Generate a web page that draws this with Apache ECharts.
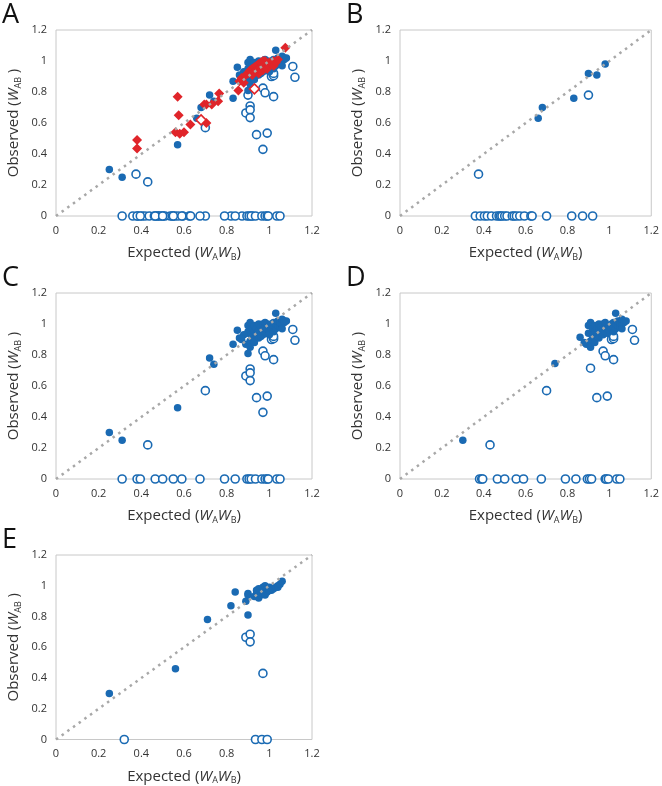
<!DOCTYPE html>
<html lang="en">

<head>
  <meta charset="UTF-8">
  <script src="https://cdn.jsdelivr.net/npm/echarts@6/dist/echarts.min.js"></script>
  <title>Observed vs expected</title>
  <style>
    body { margin: 0; background: #fff; }
    #main { width: 662px; height: 786px; }
  </style>
</head>

<body>
  <div id="main"></div>

  <script>
    // panel B
    let bFilled = [[0.66, 0.63], [0.68, 0.70], [0.83, 0.76], [0.90, 0.92], [0.94, 0.91], [0.98, 0.98]]
    let bOpen = [[0.375, 0.27], [0.90, 0.78]]
    let bZero = [0.36, 0.383, 0.403, 0.417, 0.437, 0.461, 0.473, 0.48, 0.487, 0.50, 0.511, 0.536, 0.545,
      0.556, 0.572, 0.594, 0.625, 0.631, 0.70, 0.82, 0.872, 0.92]

    // panel C
    let cFilled = [[0.25, 0.30], [0.31, 0.25], [0.57, 0.46], [0.72, 0.78], [0.74, 0.74], [0.83, 0.87],
      [0.85, 0.96], [0.86, 0.91], [0.90, 0.81], [0.89, 0.87], [0.90, 0.99], [0.91, 1.01], [0.90, 0.94],
      [0.90, 0.95], [0.91, 0.89], [0.91, 0.85], [0.92, 0.92], [0.92, 0.97], [0.93, 0.95], [0.93, 0.99],
      [0.93, 0.88], [0.94, 0.93], [0.94, 0.97], [0.95, 0.91], [0.95, 0.96], [0.95, 1.00], [0.96, 0.94],
      [0.96, 0.98], [0.96, 0.92], [0.97, 0.96], [0.97, 1.00], [0.97, 0.93], [0.98, 0.95], [0.98, 0.98],
      [0.98, 1.01], [0.99, 0.94], [0.99, 0.97], [0.99, 1.00], [1.00, 0.96], [1.00, 0.99], [1.00, 0.93],
      [1.01, 0.97], [1.01, 1.00], [1.02, 0.95], [1.02, 0.98], [1.02, 1.01], [1.03, 1.07], [1.03, 0.97],
      [1.03, 1.00], [1.04, 0.99], [1.04, 1.02], [1.05, 0.98], [1.05, 1.01], [1.06, 1.00], [1.06, 1.03],
      [1.06, 0.97], [1.07, 1.01], [1.07, 1.02], [1.08, 1.02], [0.88, 0.93], [0.87, 0.90]]
    let cOpen = [[0.43, 0.22], [0.70, 0.57], [0.89, 0.665], [0.91, 0.71], [0.91, 0.685], [0.91, 0.635],
      [0.94, 0.525], [0.99, 0.535], [0.97, 0.43], [0.97, 0.825], [0.98, 0.795], [1.02, 0.77],
      [1.11, 0.965], [1.12, 0.895], [1.01, 0.90], [1.02, 0.905], [1.02, 0.92]]
    let cZero = [0.31, 0.38, 0.395, 0.465, 0.50, 0.55, 0.59, 0.675, 0.79, 0.84, 0.895, 0.905, 0.915,
      0.935, 0.965, 0.98, 0.99, 0.995, 1.035, 1.05]

    // panel D
    let dFilled = [[0.30, 0.25], [0.74, 0.745], [0.86, 0.915], [0.89, 0.87], [0.90, 0.99], [0.91, 1.01],
      [0.90, 0.94], [0.91, 0.89], [0.91, 0.85], [0.92, 0.92], [0.92, 0.97], [0.93, 0.95], [0.93, 0.99],
      [0.93, 0.88], [0.94, 0.93], [0.94, 0.97], [0.95, 0.91], [0.95, 0.96], [0.95, 1.00], [0.96, 0.94],
      [0.96, 0.98], [0.97, 0.96], [0.97, 1.00], [0.97, 0.93], [0.98, 0.95], [0.98, 0.98], [0.98, 1.01],
      [0.99, 0.94], [0.99, 0.97], [1.00, 0.96], [1.00, 0.99], [1.01, 0.97], [1.01, 1.00], [1.02, 0.95],
      [1.02, 0.98], [1.02, 1.01], [1.03, 1.07], [1.03, 0.97], [1.03, 1.00], [1.04, 0.99], [1.04, 1.02],
      [1.05, 0.98], [1.05, 1.01], [1.06, 1.00], [1.06, 1.03], [1.06, 0.97], [1.07, 1.01], [1.08, 1.02],
      [0.88, 0.88]]
    let dOpen = [[0.43, 0.22], [0.70, 0.57], [0.91, 0.715], [0.94, 0.525], [0.99, 0.535], [0.97, 0.825],
      [0.98, 0.795], [1.02, 0.77], [1.11, 0.965], [1.12, 0.895], [1.01, 0.90], [1.02, 0.905], [1.02, 0.92]]
    let dZero = [0.38, 0.39, 0.395, 0.465, 0.50, 0.555, 0.59, 0.675, 0.79, 0.84, 0.895, 0.905, 0.915,
      0.98, 0.985, 0.995, 1.035, 1.05]

    // panel E
    let eFilled = [[0.25, 0.30], [0.56, 0.46], [0.71, 0.78], [0.82, 0.87], [0.84, 0.96], [0.89, 0.90],
      [0.90, 0.95], [0.90, 0.94], [0.90, 0.81], [0.93, 0.93], [0.94, 0.95], [0.94, 0.97], [0.95, 0.92],
      [0.95, 0.98], [0.96, 0.94], [0.96, 0.96], [0.97, 0.95], [0.97, 0.99], [0.98, 1.00], [0.98, 0.94],
      [0.99, 0.96], [0.99, 0.98], [1.00, 0.99], [1.01, 0.97], [1.02, 0.98], [1.03, 0.99], [1.04, 1.00],
      [1.04, 0.99], [1.05, 1.01], [1.06, 1.03], [0.98, 0.95], [1.00, 0.97]]
    let eOpen = [[0.89, 0.665], [0.91, 0.685], [0.91, 0.635], [0.97, 0.43]]
    let eZero = [0.32, 0.935, 0.965, 0.99]

    // panel A red diamonds
    let aRed = [[0.38, 0.49], [0.38, 0.435], [0.57, 0.77], [0.575, 0.65], [0.56, 0.54], [0.58, 0.53],
      [0.60, 0.54], [0.63, 0.59], [0.705, 0.60], [0.695, 0.72], [0.705, 0.72], [0.73, 0.72], [0.76, 0.74],
      [0.765, 0.79], [0.855, 0.81], [0.86, 0.87], [1.075, 1.085], [0.87, 0.89], [0.88, 0.86], [0.89, 0.91],
      [0.90, 0.92], [0.91, 0.94], [0.92, 0.95], [0.92, 0.91], [0.93, 0.96], [0.93, 0.93], [0.94, 0.97],
      [0.94, 0.94], [0.95, 0.98], [0.95, 0.95], [0.96, 0.96], [0.96, 0.99], [0.97, 0.97], [0.97, 0.94],
      [0.98, 1.00], [0.98, 0.96], [0.99, 0.98], [0.99, 0.95], [1.00, 0.99], [1.00, 0.97], [1.01, 0.98],
      [1.02, 1.00], [1.02, 0.97], [1.03, 0.99], [1.04, 1.01], [0.95, 0.92], [0.97, 1.00]]
    let aRedOpen = [[0.68, 0.62], [0.93, 0.82]]

    let letters = ['A', 'B', 'C', 'D', 'E']

    let blue = '#1a6ab3'
    let red = '#e0252a'
    let zeros = xs => xs.map(x => [x, 0])

    let panels = [
      { filled: bFilled.concat(cFilled), open: bOpen.concat(cOpen, zeros(bZero), zeros(cZero)), left: 56, top: 30 },
      { filled: bFilled, open: bOpen.concat(zeros(bZero)), left: 400, top: 30 },
      { filled: cFilled, open: cOpen.concat(zeros(cZero)), left: 56, top: 293 },
      { filled: dFilled, open: dOpen.concat(zeros(dZero)), left: 400, top: 293 },
      { filled: eFilled, open: eOpen.concat(zeros(eZero)), left: 56, top: 555 }
    ]

    let font = 'Open Sans'
    let label = { fontFamily: font, fontSize: 11, color: '#333' }
    let rich = {
      t: { fontFamily: font, fontSize: 15, color: '#333', lineHeight: 20 },
      i: { fontFamily: font, fontSize: 15, color: '#333', fontStyle: 'italic', lineHeight: 20 },
      s: { fontFamily: font, fontSize: 9, color: '#333', lineHeight: 20, padding: [8, 0, 0, 0] }
    }

    let grids = [], xAxes = [], yAxes = [], series = [], titles = []

    panels.forEach((p, k) => {
      grids.push({ left: p.left, top: p.top, width: 256, height: 186, show: true, borderColor: '#c8c8c8', borderWidth: 1 })
      let common = {
        gridIndex: k, type: 'value', min: 0, max: 1.2, interval: 0.2,
        axisLine: { show: false }, axisTick: { show: false }, splitLine: { show: false },
        nameLocation: 'middle', nameTextStyle: { rich: rich }
      }
      xAxes.push(Object.assign({}, common, {
        axisLabel: Object.assign({ margin: 9 }, label),
        name: '{t|Expected (}{i|W}{s|A}{i|W}{s|B}{t|)}', nameGap: 27
      }))
      yAxes.push(Object.assign({}, common, {
        axisLabel: Object.assign({ margin: 9 }, label),
        name: '{t|Observed (}{i|W}{s|AB}{t| )}', nameGap: 32
      }))
      titles.push({
        text: letters[k], left: p.left - 59, top: p.top - 33,
        textStyle: { fontFamily: font, fontSize: 27, fontWeight: 'normal', color: '#111' }
      })
      series.push({
        type: 'scatter', xAxisIndex: k, yAxisIndex: k, data: p.open, symbol: 'circle', symbolSize: 8,
        itemStyle: { color: '#fff', borderColor: blue, borderWidth: 1.6, opacity: 1 }, z: 2
      })
      series.push({
        type: 'scatter', xAxisIndex: k, yAxisIndex: k, data: p.filled, symbol: 'circle', symbolSize: 7.5,
        itemStyle: { color: blue, opacity: 1 }, z: 3
      })
      if (k === 0) {
        series.push({
          type: 'scatter', xAxisIndex: k, yAxisIndex: k, data: aRed, symbol: 'diamond', symbolSize: 10,
          itemStyle: { color: red, opacity: 1 }, z: 4
        })
        series.push({
          type: 'scatter', xAxisIndex: k, yAxisIndex: k, data: aRedOpen, symbol: 'diamond', symbolSize: 10,
          itemStyle: { color: '#fff', borderColor: red, borderWidth: 1.6, opacity: 1 }, z: 4
        })
      }
      series.push({
        type: 'line', xAxisIndex: k, yAxisIndex: k, data: [[0, 0], [1.2, 1.2]], symbol: 'none',
        lineStyle: { color: '#a8a8a8', width: 2.5, type: [2.5, 4.5] }, z: 5, silent: true
      })
    })

    let chart = echarts.init(document.getElementById('main'))
    chart.setOption({
      animation: false,
      title: titles,
      grid: grids,
      xAxis: xAxes,
      yAxis: yAxes,
      series: series
    })
  </script>
</body>

</html>
